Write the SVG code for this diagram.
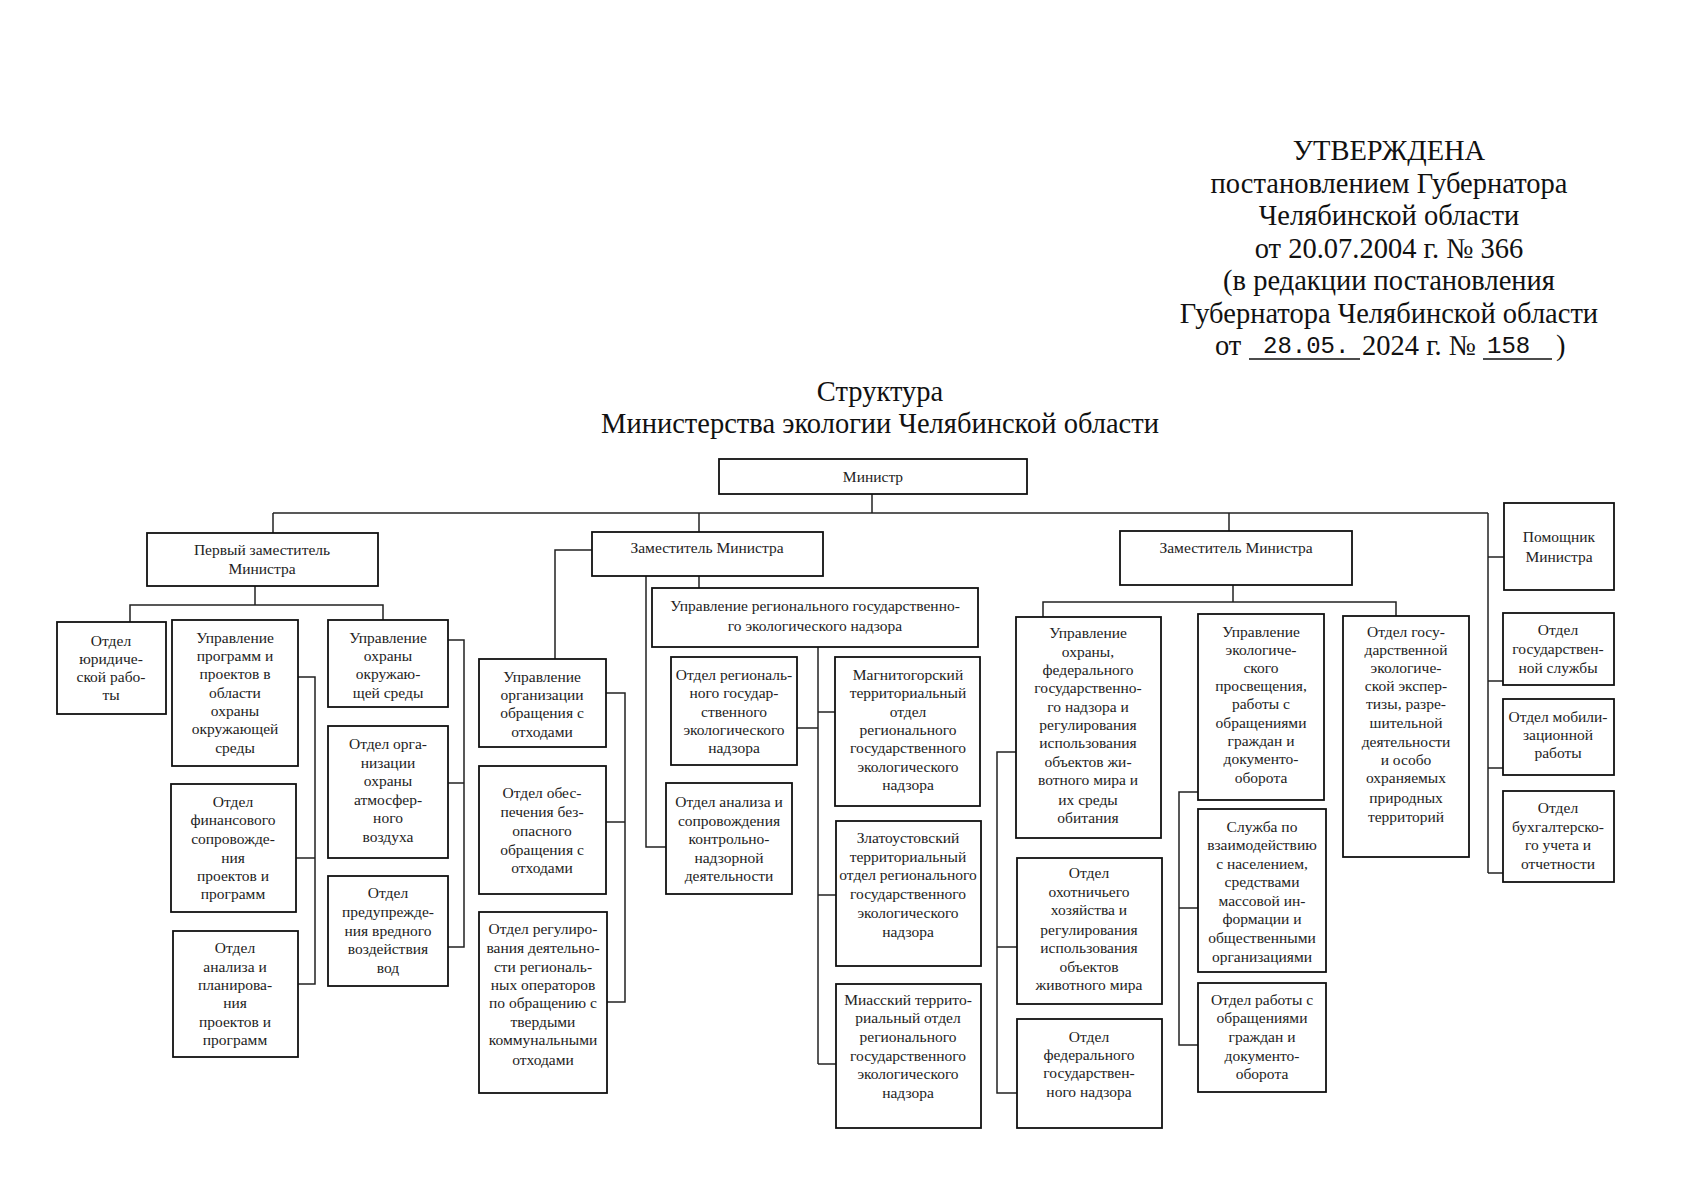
<svg xmlns="http://www.w3.org/2000/svg" width="1698" height="1200" viewBox="0 0 1698 1200">
<style>
.hd{font-family:"Liberation Serif","Times New Roman",serif;font-size:28.5px;fill:#111;text-anchor:middle}
.mono{font-family:"Liberation Mono","Courier New",monospace;font-size:24px;fill:#111}
.bx rect{fill:#fff;stroke:#111;stroke-width:1.8}
.bx text{font-family:"Liberation Serif","Times New Roman",serif;font-size:15.5px;fill:#222;text-anchor:middle}
.cn line,.cn polyline{stroke:#222;stroke-width:1.5;fill:none}
</style>
<rect width="1698" height="1200" fill="#fff"/>
<g id="header">
<text class="hd" x="1389" y="160">УТВЕРЖДЕНА</text>
<text class="hd" x="1389" y="193">постановлением Губернатора</text>
<text class="hd" x="1389" y="225">Челябинской области</text>
<text class="hd" x="1389" y="258">от 20.07.2004 г. № 366</text>
<text class="hd" x="1389" y="290">(в редакции постановления</text>
<text class="hd" x="1389" y="323">Губернатора Челябинской области</text>
<text class="hd" x="1215" y="355" style="text-anchor:start">от</text>
<text class="mono" x="1263" y="353">28.05.</text>
<text class="hd" x="1362" y="355" style="text-anchor:start">2024 г. №</text>
<text class="mono" x="1487" y="353">158</text>
<text class="hd" x="1556" y="355" style="text-anchor:start">)</text>
<line x1="1249" y1="359" x2="1360" y2="359" stroke="#111" stroke-width="1.3"/>
<line x1="1483" y1="359" x2="1552" y2="359" stroke="#111" stroke-width="1.3"/>
</g>
<g id="title">
<text class="hd" x="880" y="401">Структура</text>
<text class="hd" x="880" y="433">Министерства экологии Челябинской области</text>
</g>
<g id="connectors" class="cn">
<line x1="872" y1="494" x2="872" y2="513"/>
<line x1="273" y1="513" x2="1488" y2="513"/>
<line x1="273" y1="513" x2="273" y2="533"/>
<line x1="699" y1="513" x2="699" y2="532"/>
<line x1="1229" y1="513" x2="1229" y2="531"/>
<line x1="1488" y1="513" x2="1488" y2="873"/>
<line x1="1488" y1="557" x2="1504" y2="557"/>
<line x1="1488" y1="681" x2="1503" y2="681"/>
<line x1="1488" y1="768" x2="1503" y2="768"/>
<line x1="1488" y1="873" x2="1503" y2="873"/>
<line x1="255" y1="586" x2="255" y2="605"/>
<polyline points="130,622 130,605 383,605 383,620"/>
<polyline points="298,677 315,677 315,984 298,984"/>
<line x1="296" y1="858" x2="315" y2="858"/>
<polyline points="448,640 464,640 464,947 448,947"/>
<line x1="448" y1="783" x2="464" y2="783"/>
<polyline points="592,550 555,550 555,659"/>
<polyline points="606,693 625,693 625,1002 607,1002"/>
<line x1="606" y1="822" x2="625" y2="822"/>
<polyline points="646,576 646,847 666,847"/>
<line x1="699" y1="576" x2="699" y2="588"/>
<line x1="818" y1="647" x2="818" y2="1064"/>
<line x1="797" y1="728" x2="818" y2="728"/>
<line x1="818" y1="712" x2="836" y2="712"/>
<line x1="818" y1="895" x2="836" y2="895"/>
<line x1="818" y1="1064" x2="836" y2="1064"/>
<line x1="1233" y1="585" x2="1233" y2="602"/>
<polyline points="1043,617 1043,602 1396,602 1396,616"/>
<polyline points="1016,752 997,752 997,1093 1017,1093"/>
<line x1="997" y1="947" x2="1017" y2="947"/>
<polyline points="1198,792 1179,792 1179,1045 1198,1045"/>
<line x1="1179" y1="908" x2="1198" y2="908"/>
</g>
<g id="minister" class="bx"><rect x="719" y="459" width="308" height="35"/><text x="873" y="482">Министр</text></g>
<g id="first-deputy" class="bx"><rect x="147" y="533" width="231" height="53"/><text><tspan x="262" y="555">Первый заместитель</tspan><tspan x="262" y="574">Министра</tspan></text></g>
<g id="legal" class="bx"><rect x="57" y="622" width="109" height="92"/><text><tspan x="111" y="646">Отдел</tspan><tspan x="111" y="664">юридиче-</tspan><tspan x="111" y="682">ской рабо-</tspan><tspan x="111" y="700">ты</tspan></text></g>
<g id="programs" class="bx"><rect x="172" y="620" width="126" height="146"/><text><tspan x="235" y="643">Управление</tspan><tspan x="235" y="661">программ и</tspan><tspan x="235" y="679">проектов в</tspan><tspan x="235" y="698">области</tspan><tspan x="235" y="716">охраны</tspan><tspan x="235" y="734">окружающей</tspan><tspan x="235" y="753">среды</tspan></text></g>
<g id="finance" class="bx"><rect x="171" y="784" width="125" height="128"/><text><tspan x="233" y="807">Отдел</tspan><tspan x="233" y="825">финансового</tspan><tspan x="233" y="844">сопровожде-</tspan><tspan x="233" y="863">ния</tspan><tspan x="233" y="881">проектов и</tspan><tspan x="233" y="899">программ</tspan></text></g>
<g id="analysis-planning" class="bx"><rect x="173" y="931" width="125" height="126"/><text><tspan x="235" y="953">Отдел</tspan><tspan x="235" y="972">анализа и</tspan><tspan x="235" y="990">планирова-</tspan><tspan x="235" y="1008">ния</tspan><tspan x="235" y="1027">проектов и</tspan><tspan x="235" y="1045">программ</tspan></text></g>
<g id="env-protection" class="bx"><rect x="328" y="620" width="120" height="87"/><text><tspan x="388" y="643">Управление</tspan><tspan x="388" y="661">охраны</tspan><tspan x="388" y="679">окружаю-</tspan><tspan x="388" y="698">щей среды</tspan></text></g>
<g id="air" class="bx"><rect x="328" y="726" width="120" height="132"/><text><tspan x="388" y="749">Отдел орга-</tspan><tspan x="388" y="768">низации</tspan><tspan x="388" y="786">охраны</tspan><tspan x="388" y="805">атмосфер-</tspan><tspan x="388" y="823">ного</tspan><tspan x="388" y="842">воздуха</tspan></text></g>
<g id="water" class="bx"><rect x="328" y="876" width="120" height="110"/><text><tspan x="388" y="898">Отдел</tspan><tspan x="388" y="917">предупрежде-</tspan><tspan x="388" y="936">ния вредного</tspan><tspan x="388" y="954">воздействия</tspan><tspan x="388" y="973">вод</tspan></text></g>
<g id="deputy-1" class="bx"><rect x="592" y="532" width="231" height="44"/><text x="707" y="553">Заместитель Министра</text></g>
<g id="waste-mgmt" class="bx"><rect x="479" y="659" width="127" height="88"/><text><tspan x="542" y="682">Управление</tspan><tspan x="542" y="700">организации</tspan><tspan x="542" y="718">обращения с</tspan><tspan x="542" y="737">отходами</tspan></text></g>
<g id="waste-safety" class="bx"><rect x="479" y="766" width="127" height="128"/><text><tspan x="542" y="798">Отдел обес-</tspan><tspan x="542" y="817">печения без-</tspan><tspan x="542" y="836">опасного</tspan><tspan x="542" y="855">обращения с</tspan><tspan x="542" y="873">отходами</tspan></text></g>
<g id="waste-operators" class="bx"><rect x="479" y="912" width="128" height="181"/><text><tspan x="543" y="934">Отдел регулиро-</tspan><tspan x="543" y="953">вания деятельно-</tspan><tspan x="543" y="972">сти региональ-</tspan><tspan x="543" y="990">ных операторов</tspan><tspan x="543" y="1008">по обращению с</tspan><tspan x="543" y="1027">твердыми</tspan><tspan x="543" y="1045">коммунальными</tspan><tspan x="543" y="1065">отходами</tspan></text></g>
<g id="regional-supervision" class="bx"><rect x="652" y="588" width="326" height="59"/><text><tspan x="815" y="611">Управление регионального государственно-</tspan><tspan x="815" y="631">го экологического надзора</tspan></text></g>
<g id="regional-dept" class="bx"><rect x="671" y="657" width="126" height="108"/><text><tspan x="734" y="680">Отдел региональ-</tspan><tspan x="734" y="698">ного государ-</tspan><tspan x="734" y="717">ственного</tspan><tspan x="734" y="735">экологического</tspan><tspan x="734" y="753">надзора</tspan></text></g>
<g id="control-analysis" class="bx"><rect x="666" y="783" width="126" height="111"/><text><tspan x="729" y="807">Отдел анализа и</tspan><tspan x="729" y="826">сопровождения</tspan><tspan x="729" y="844">контрольно-</tspan><tspan x="729" y="863">надзорной</tspan><tspan x="729" y="881">деятельности</tspan></text></g>
<g id="magnitogorsk" class="bx"><rect x="835" y="657" width="145" height="149"/><text><tspan x="908" y="680">Магнитогорский</tspan><tspan x="908" y="698">территориальный</tspan><tspan x="908" y="717">отдел</tspan><tspan x="908" y="735">регионального</tspan><tspan x="908" y="753">государственного</tspan><tspan x="908" y="772">экологического</tspan><tspan x="908" y="790">надзора</tspan></text></g>
<g id="zlatoust" class="bx"><rect x="836" y="821" width="145" height="145"/><text><tspan x="908" y="843">Златоустовский</tspan><tspan x="908" y="862">территориальный</tspan><tspan x="908" y="880">отдел регионального</tspan><tspan x="908" y="899">государственного</tspan><tspan x="908" y="918">экологического</tspan><tspan x="908" y="937">надзора</tspan></text></g>
<g id="miass" class="bx"><rect x="836" y="984" width="145" height="144"/><text><tspan x="908" y="1005">Миасский террито-</tspan><tspan x="908" y="1023">риальный отдел</tspan><tspan x="908" y="1042">регионального</tspan><tspan x="908" y="1061">государственного</tspan><tspan x="908" y="1079">экологического</tspan><tspan x="908" y="1098">надзора</tspan></text></g>
<g id="deputy-2" class="bx"><rect x="1120" y="531" width="232" height="54"/><text x="1236" y="553">Заместитель Министра</text></g>
<g id="wildlife" class="bx"><rect x="1016" y="617" width="145" height="221"/><text><tspan x="1088" y="638">Управление</tspan><tspan x="1088" y="657">охраны,</tspan><tspan x="1088" y="675">федерального</tspan><tspan x="1088" y="693">государственно-</tspan><tspan x="1088" y="712">го надзора и</tspan><tspan x="1088" y="730">регулирования</tspan><tspan x="1088" y="748">использования</tspan><tspan x="1088" y="767">объектов жи-</tspan><tspan x="1088" y="785">вотного мира и</tspan><tspan x="1088" y="805">их среды</tspan><tspan x="1088" y="823">обитания</tspan></text></g>
<g id="hunting" class="bx"><rect x="1017" y="858" width="145" height="146"/><text><tspan x="1089" y="878">Отдел</tspan><tspan x="1089" y="897">охотничьего</tspan><tspan x="1089" y="915">хозяйства и</tspan><tspan x="1089" y="935">регулирования</tspan><tspan x="1089" y="953">использования</tspan><tspan x="1089" y="972">объектов</tspan><tspan x="1089" y="990">животного мира</tspan></text></g>
<g id="federal-supervision" class="bx"><rect x="1017" y="1019" width="145" height="109"/><text><tspan x="1089" y="1042">Отдел</tspan><tspan x="1089" y="1060">федерального</tspan><tspan x="1089" y="1078">государствен-</tspan><tspan x="1089" y="1097">ного надзора</tspan></text></g>
<g id="education" class="bx"><rect x="1198" y="614" width="126" height="186"/><text><tspan x="1261" y="637">Управление</tspan><tspan x="1261" y="655">экологиче-</tspan><tspan x="1261" y="673">ского</tspan><tspan x="1261" y="691">просвещения,</tspan><tspan x="1261" y="709">работы с</tspan><tspan x="1261" y="728">обращениями</tspan><tspan x="1261" y="746">граждан и</tspan><tspan x="1261" y="764">документо-</tspan><tspan x="1261" y="783">оборота</tspan></text></g>
<g id="public-service" class="bx"><rect x="1198" y="809" width="128" height="163"/><text><tspan x="1262" y="832">Служба по</tspan><tspan x="1262" y="850">взаимодействию</tspan><tspan x="1262" y="869">с населением,</tspan><tspan x="1262" y="887">средствами</tspan><tspan x="1262" y="906">массовой ин-</tspan><tspan x="1262" y="924">формации и</tspan><tspan x="1262" y="943">общественными</tspan><tspan x="1262" y="962">организациями</tspan></text></g>
<g id="appeals" class="bx"><rect x="1198" y="983" width="128" height="109"/><text><tspan x="1262" y="1005">Отдел работы с</tspan><tspan x="1262" y="1023">обращениями</tspan><tspan x="1262" y="1042">граждан и</tspan><tspan x="1262" y="1061">документо-</tspan><tspan x="1262" y="1079">оборота</tspan></text></g>
<g id="expertise" class="bx"><rect x="1343" y="616" width="126" height="241"/><text><tspan x="1406" y="637">Отдел госу-</tspan><tspan x="1406" y="655">дарственной</tspan><tspan x="1406" y="673">экологиче-</tspan><tspan x="1406" y="691">ской экспер-</tspan><tspan x="1406" y="709">тизы, разре-</tspan><tspan x="1406" y="728">шительной</tspan><tspan x="1406" y="747">деятельности</tspan><tspan x="1406" y="765">и особо</tspan><tspan x="1406" y="783">охраняемых</tspan><tspan x="1406" y="803">природных</tspan><tspan x="1406" y="822">территорий</tspan></text></g>
<g id="assistant" class="bx"><rect x="1504" y="503" width="110" height="87"/><text><tspan x="1559" y="542">Помощник</tspan><tspan x="1559" y="562">Министра</tspan></text></g>
<g id="civil-service" class="bx"><rect x="1503" y="613" width="111" height="72"/><text><tspan x="1558" y="635">Отдел</tspan><tspan x="1558" y="654">государствен-</tspan><tspan x="1558" y="673">ной службы</tspan></text></g>
<g id="mobilization" class="bx"><rect x="1503" y="699" width="111" height="76"/><text><tspan x="1558" y="722">Отдел мобили-</tspan><tspan x="1558" y="740">зационной</tspan><tspan x="1558" y="758">работы</tspan></text></g>
<g id="accounting" class="bx"><rect x="1503" y="791" width="111" height="91"/><text><tspan x="1558" y="813">Отдел</tspan><tspan x="1558" y="832">бухгалтерско-</tspan><tspan x="1558" y="850">го учета и</tspan><tspan x="1558" y="869">отчетности</tspan></text></g>
</svg>
